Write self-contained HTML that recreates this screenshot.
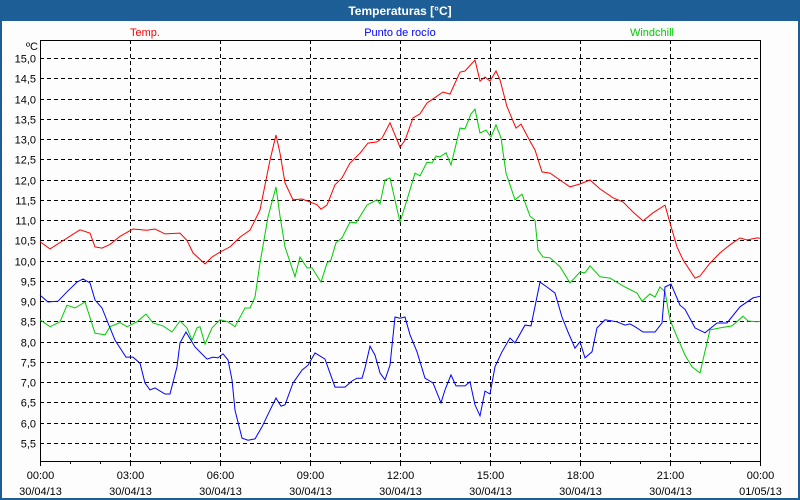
<!DOCTYPE html>
<html><head><meta charset="utf-8"><style>
html,body{margin:0;padding:0;background:#fff}
svg{display:block;font-family:"Liberation Sans",sans-serif}
</style></head><body>
<svg id="chart" width="800" height="500" viewBox="0 0 800 500">
<rect x="0" y="0" width="800" height="500" fill="#fcfdfc"/>
<rect x="1" y="1" width="798" height="498" fill="none" stroke="#1d5e96" stroke-width="2"/>
<rect x="0" y="0" width="800" height="21" fill="#1d5e96"/>
<text x="400" y="15" text-anchor="middle" fill="#fff" font-size="12" font-weight="bold">Temperaturas [°C]</text>
<text x="145" y="36" text-anchor="middle" fill="#ff0000" font-size="11">Temp.</text>
<text x="400" y="36" text-anchor="middle" fill="#0000ff" font-size="11">Punto de rocío</text>
<text x="652" y="36" text-anchor="middle" fill="#00cc00" font-size="11">Windchill</text>
<text x="38" y="50" text-anchor="end" fill="#000" font-size="11">ºC</text>
<g id="grid"></g>
<g id="axes"></g>
<g id="series"></g>
</svg>
<script>
const yTicks = [5.5,6.0,6.5,7.0,7.5,8.0,8.5,9.0,9.5,10.0,10.5,11.0,11.5,12.0,12.5,13.0,13.5,14.0,14.5,15.0];
const xTickHours = [0,3,6,9,12,15,18,21,24];
const xTickTimes = ["00:00","03:00","06:00","09:00","12:00","15:00","18:00","21:00","00:00"];
const xTickDates = ["30/04/13","30/04/13","30/04/13","30/04/13","30/04/13","30/04/13","30/04/13","30/04/13","01/05/13"];

const tempTimes = [0,20,80,100,110,124,140,160,186,214,230,250,280,294,306,330,344,360,380,400,420,440,460,472,480,490,506,524,554,562,574,590,604,620,640,656,674,684,700,720,730,746,760,774,786,806,820,840,850,870,880,890,900,912,920,934,952,962,980,990,1004,1020,1040,1060,1080,1100,1120,1146,1166,1186,1206,1226,1250,1260,1274,1286,1310,1320,1340,1360,1380,1400,1414,1434,1440];
const tempVals = [10.47,10.29,10.76,10.68,10.34,10.31,10.4,10.6,10.78,10.75,10.78,10.66,10.68,10.5,10.19,9.92,10.09,10.21,10.34,10.58,10.75,11.25,12.48,13.1,12.65,11.92,11.5,11.52,11.38,11.27,11.37,11.87,12.04,12.41,12.65,12.9,12.93,13.02,13.4,12.8,12.97,13.52,13.62,13.89,13.99,14.16,14.11,14.65,14.68,14.95,14.43,14.53,14.43,14.68,14.46,13.8,13.27,13.37,12.95,12.73,12.19,12.16,11.99,11.82,11.89,11.99,11.77,11.55,11.45,11.2,10.98,11.18,11.37,10.93,10.34,10.02,9.57,9.62,9.94,10.19,10.39,10.56,10.51,10.56,10.55];

const dewTimes = [0,16,36,54,74,86,100,110,124,136,150,172,186,200,210,220,230,250,260,274,280,292,310,334,346,356,366,376,384,390,404,416,430,444,460,472,482,490,506,524,536,550,570,590,610,624,634,644,650,660,670,680,690,700,710,720,730,740,754,770,786,802,810,822,832,850,860,870,880,890,900,910,924,940,950,970,982,1000,1014,1030,1044,1056,1070,1080,1090,1104,1114,1130,1154,1170,1180,1190,1206,1230,1244,1250,1262,1280,1290,1310,1330,1354,1374,1400,1426,1440];
const dewVals = [9.15,8.98,9.0,9.23,9.47,9.55,9.45,9.03,8.83,8.46,8.04,7.62,7.62,7.47,6.98,6.81,6.86,6.71,6.71,7.38,7.97,8.24,7.87,7.57,7.62,7.6,7.7,7.55,7.06,6.31,5.62,5.57,5.6,5.9,6.31,6.61,6.41,6.44,6.98,7.3,7.42,7.72,7.57,6.88,6.88,7.03,7.1,7.1,7.35,7.89,7.67,7.23,7.06,7.42,8.61,8.58,8.61,8.17,7.75,7.1,6.98,6.49,6.81,7.18,6.91,6.91,7.01,6.44,6.17,6.78,6.71,7.38,7.75,8.09,7.97,8.41,8.39,9.47,9.35,9.2,8.61,8.24,7.84,8.0,7.6,7.75,8.34,8.54,8.49,8.41,8.44,8.37,8.24,8.24,8.46,9.35,9.42,8.9,8.8,8.34,8.22,8.46,8.46,8.86,9.08,9.12];

const windTimes = [0,20,40,54,70,90,110,130,140,160,174,194,212,226,246,264,280,294,304,314,320,330,344,360,376,390,410,420,430,440,456,472,480,490,510,520,534,544,562,574,582,592,604,620,632,654,674,680,690,700,720,734,750,760,774,784,792,800,812,822,840,850,862,870,880,892,902,912,922,932,940,950,964,980,990,996,1006,1020,1040,1060,1080,1090,1100,1120,1140,1170,1194,1204,1220,1230,1240,1250,1260,1274,1290,1304,1320,1340,1360,1384,1406,1416,1434,1440];
const windVals = [8.54,8.37,8.49,8.9,8.83,8.98,8.21,8.17,8.37,8.47,8.37,8.49,8.68,8.46,8.39,8.24,8.51,8.34,8.04,8.34,8.37,7.94,8.34,8.54,8.49,8.37,8.83,8.83,9.1,9.94,11.08,11.82,11.1,10.34,9.6,10.09,9.82,9.82,9.47,9.94,10.02,10.44,10.56,10.95,10.93,11.37,11.5,11.4,11.99,12.04,10.95,11.5,12.16,12.09,12.43,12.41,12.58,12.56,12.66,12.36,13.27,13.25,13.62,13.74,13.15,13.22,13.05,13.35,13.03,12.16,11.87,11.5,11.64,11.1,11.0,10.26,10.09,10.07,9.85,9.45,9.72,9.7,9.87,9.6,9.57,9.35,9.2,9.0,9.18,9.1,9.35,9.23,8.54,8.12,7.67,7.38,7.23,8.29,8.34,8.39,8.63,8.51,8.49,8.5];

const NS = "http://www.w3.org/2000/svg";
const X0 = 40, X1 = 760, YTOP = 40, YBOT = 461;
function xScale(min){ return X0 + (min/1440)*(X1-X0); }
function yScale(v){ return 58 + (15 - v) * ((443-58)/9.5); }
function mk(tag, attrs, parent){ const e=document.createElementNS(NS,tag); for(const k in attrs) e.setAttribute(k,attrs[k]); parent.appendChild(e); return e; }

const grid = document.getElementById('grid');
yTicks.forEach(v=>{
  const y = Math.round(yScale(v))+0.5;
  const l = mk('line',{x1:X0,x2:X1,y1:y,y2:y,stroke:'#000','stroke-dasharray':'4,3','stroke-width':1},grid);
  
  
  const t = mk('text',{x:36,y:y+4,'text-anchor':'end','font-size':11,fill:'#000'},grid);
  t.textContent = v.toFixed(1).replace('.',',');
  
  
});
xTickHours.forEach((h,i)=>{
  const x = Math.round(xScale(h*60))+0.5;
  if(h>0 && h<24){
    const l = mk('line',{x1:x,x2:x,y1:YTOP,y2:YBOT,stroke:'#000','stroke-dasharray':'4,3','stroke-width':1},grid);
    
    
  }
  const t1 = mk('text',{x:x,y:479,'text-anchor':'middle','font-size':11,fill:'#000'},grid);
  t1.textContent = xTickTimes[i];
  
  
  const t2 = mk('text',{x:x,y:495,'text-anchor':'middle','font-size':11,fill:'#000'},grid);
  t2.textContent = xTickDates[i];
  
  
});
const axes = document.getElementById('axes');
const frame = mk('rect',{x:X0+0.5,y:YTOP+0.5,width:X1-X0,height:YBOT-YTOP,fill:'none',stroke:'#000','stroke-width':1},axes);


for(let h=0; h<=24; h++){
  const x = Math.round(xScale(h*60))+0.5;
  const tk = mk('line',{x1:x,x2:x,y1:YBOT,y2:YBOT+(h%3===0?5:3),stroke:'#000','stroke-width':1},axes);
  
  
}
const series = document.getElementById('series');
function drawLine(times, vals, color, name){
  const pts = times.map((t,i)=> xScale(t).toFixed(1)+','+yScale(vals[i]).toFixed(1)).join(' ');
  const p = mk('polyline',{points:pts,fill:'none',stroke:color,'stroke-width':1},series);
  
  
}
drawLine(windTimes, windVals, '#00cc00', 'windchill-line');
drawLine(tempTimes, tempVals, '#ff0000', 'temp-line');
drawLine(dewTimes, dewVals, '#0000ff', 'dewpoint-line');
</script>
</body></html>
